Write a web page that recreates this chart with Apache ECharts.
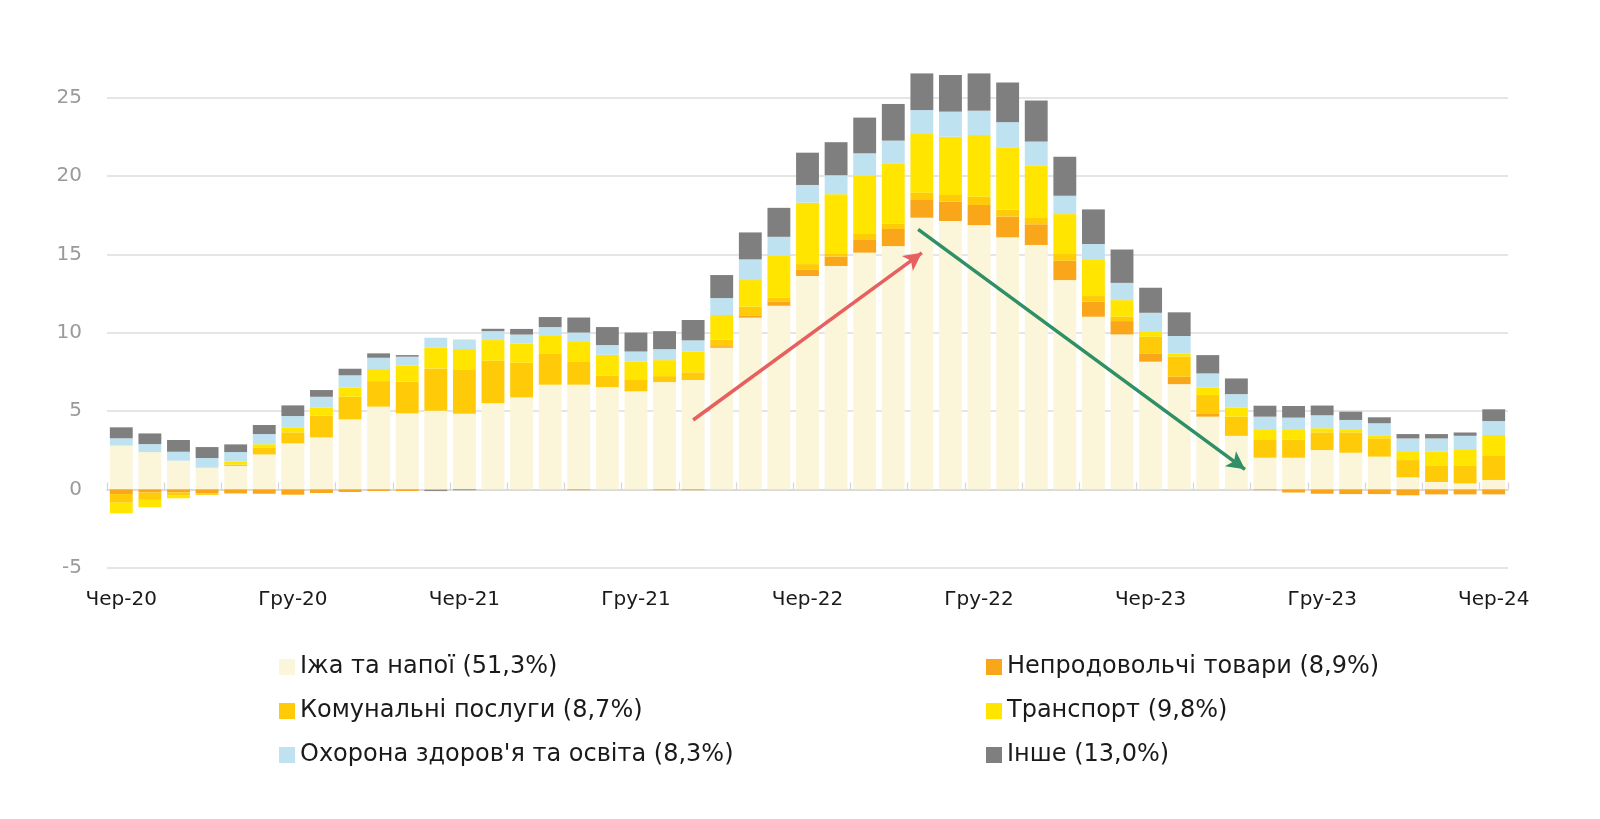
<!DOCTYPE html>
<html>
<head>
<meta charset="utf-8">
<script src="https://cdn.jsdelivr.net/npm/echarts@6/dist/echarts.min.js"></script>
<style>
html,body{margin:0;padding:0;background:#fff;}
#chart{width:1600px;height:819px;}
</style>
</head>
<body>
<div id="chart"></div>
<script>
// Months Jun-2020 .. Jun-2024
const monthNames = ['Січ','Лют','Бер','Кві','Тра','Чер','Лип','Сер','Вер','Жов','Лис','Гру'];
const categories = [];
for (let y = 20; y <= 24; y++) {
  for (let m = 0; m < 12; m++) {
    if (y === 20 && m < 5) continue;
    if (y === 24 && m > 5) continue;
    categories.push(monthNames[m] + '-' + y);
  }
}

const seriesNames = [
  'Іжа та напої (51,3%)',
  'Непродовольчі товари (8,9%)',
  'Комунальні послуги (8,7%)',
  'Транспорт (9,8%)',
  "Охорона здоров'я та освіта (8,3%)",
  'Інше (13,0%)'
];

const food = [2.79,2.38,1.83,1.38,1.49,2.23,2.94,3.32,4.47,5.28,4.85,5.02,4.83,5.49,5.87,6.68,6.68,6.53,6.26,6.85,6.98,9.04,10.96,11.72,13.62,14.26,15.11,15.53,17.34,17.13,16.87,16.09,15.6,13.36,11.02,9.89,8.15,6.72,4.64,3.43,2.02,2.02,2.51,2.34,2.09,0.77,0.47,0.38,0.6];
const nonFood = [-0.3,-0.2,-0.2,-0.25,-0.26,-0.28,-0.34,-0.23,-0.17,-0.1,-0.1,-0.05,0,0,0,0,-0.05,0,0,-0.05,-0.05,0.1,0.15,0.25,0.42,0.6,0.85,1.09,1.13,1.23,1.28,1.32,1.32,1.23,0.96,0.85,0.53,0.47,0.17,0.04,-0.05,-0.2,-0.28,-0.3,-0.3,-0.38,-0.32,-0.32,-0.32];
const utilities = [-0.55,-0.47,-0.2,-0.1,0.1,0.45,0.7,1.38,1.44,1.63,2.02,2.7,2.79,2.72,2.21,1.96,1.45,0.72,0.77,0.38,0.49,0.43,0.55,0.28,0.34,0.21,0.34,0.36,0.47,0.43,0.53,0.43,0.45,0.43,0.36,0.28,1.06,1.28,1.21,1.17,1.13,1.17,1.13,1.3,1.17,1.1,1.02,1.11,1.53];
const transport = [-0.68,-0.47,-0.17,0,0.18,0.2,0.32,0.51,0.58,0.77,1.02,1.34,1.34,1.32,1.23,1.15,1.28,1.34,1.13,1.02,1.32,1.56,1.7,2.7,3.92,3.77,3.7,3.83,3.74,3.72,3.94,4.0,3.28,2.55,2.3,1.06,0.36,0.21,0.47,0.57,0.64,0.6,0.26,0.15,0.15,0.57,0.91,1.08,1.34];
const health = [0.47,0.51,0.57,0.62,0.61,0.65,0.72,0.7,0.79,0.72,0.58,0.62,0.61,0.57,0.57,0.57,0.6,0.62,0.64,0.7,0.72,1.08,1.32,1.17,1.13,1.21,1.45,1.45,1.53,1.6,1.55,1.6,1.55,1.17,1.02,1.1,1.17,1.11,0.91,0.87,0.85,0.79,0.83,0.64,0.81,0.81,0.85,0.85,0.89];
const other = [0.7,0.68,0.75,0.7,0.49,0.58,0.68,0.43,0.42,0.28,0.1,-0.06,-0.05,0.15,0.36,0.64,0.96,1.15,1.21,1.15,1.3,1.47,1.72,1.85,2.06,2.11,2.28,2.34,2.34,2.34,2.38,2.53,2.62,2.49,2.21,2.13,1.6,1.51,1.17,1.0,0.7,0.74,0.62,0.53,0.38,0.28,0.28,0.21,0.75];

const seriesValues = [food, nonFood, utilities, transport, health, other];
const colors = ['#FBF5D9','#F9A61A','#FFCB08','#FFE500','#BFE2F1','#7F7F7F'];

// Arrow annotations in data coordinates [month position (0 = Чер-20), value]
const upArrow = [[20.0, 4.43], [28.0, 15.1]];
const downArrow = [[27.87, 16.6], [39.3, 1.28]];

const chart = echarts.init(document.getElementById('chart'), null, {renderer: 'canvas'});

const barSeries = seriesNames.map((name, i) => ({
  name: name,
  type: 'bar',
  stack: 'total',
  xAxisIndex: 0,
  barCategoryGap: '20%',
  clip: false,
  itemStyle: {color: colors[i]},
  emphasis: {disabled: true},
  data: seriesValues[i]
}));

const FONT = 'DejaVu Sans';
const legendText = {fontFamily: FONT, fontSize: 24, color: '#1a1a1a', lineHeight: 24};

const option = {
  animation: false,
  backgroundColor: '#ffffff',
  grid: {left: 107, right: 92, top: 97.7, bottom: 251.3, containLabel: false},
  legend: [
    {
      data: [seriesNames[0], seriesNames[2], seriesNames[4]],
      orient: 'vertical', left: 274, top: 650,
      itemWidth: 16, itemHeight: 16, itemGap: 20, icon: 'rect',
      textStyle: legendText, selectedMode: false
    },
    {
      data: [seriesNames[1], seriesNames[3], seriesNames[5]],
      orient: 'vertical', left: 981, top: 650,
      itemWidth: 16, itemHeight: 16, itemGap: 20, icon: 'rect',
      textStyle: legendText, selectedMode: false
    }
  ],
  xAxis: [
    {
      type: 'category',
      data: categories,
      position: 'bottom',
      axisLine: {show: false, onZero: false},
      axisTick: {show: false},
      axisLabel: {
        interval: 5, margin: 22,
        fontFamily: FONT, fontSize: 20, color: '#1a1a1a'
      },
      splitLine: {show: false}
    },
    {
      type: 'category',
      data: categories,
      position: 'bottom',
      axisLine: {show: true, onZero: true, lineStyle: {color: '#d6d6d6', width: 1.5}},
      axisTick: {show: true, inside: true, length: 7, lineStyle: {color: '#d6d6d6', width: 1.2}},
      axisLabel: {show: false},
      splitLine: {show: false}
    },
    {
      // hidden continuous axis over the same months, for the annotation arrows
      type: 'value',
      min: -0.5, max: categories.length - 0.5,
      show: false
    }
  ],
  yAxis: {
    type: 'value',
    min: -5, max: 25, interval: 5,
    axisLine: {show: false},
    axisTick: {show: false},
    axisLabel: {margin: 25, fontFamily: FONT, fontSize: 20, color: '#9a9a9a'},
    splitLine: {lineStyle: {color: '#dcdcdc', width: 1.5}}
  },
  series: barSeries.concat([
    {
      name: 'arrows',
      type: 'line',
      xAxisIndex: 2,
      data: [],
      silent: true,
      showSymbol: false,
      markLine: {
        silent: true,
        animation: false,
        symbol: ['none', 'arrow'],
        symbolSize: [14, 18],
        label: {show: false},
        emphasis: {disabled: true},
        data: [
          [{coord: upArrow[0], lineStyle: {color: '#E6605F', width: 3.5, type: 'solid'}}, {coord: upArrow[1]}],
          [{coord: downArrow[0], lineStyle: {color: '#2F8F66', width: 3.5, type: 'solid'}}, {coord: downArrow[1]}]
        ]
      }
    }
  ])
};

chart.setOption(option);
</script>
</body>
</html>
